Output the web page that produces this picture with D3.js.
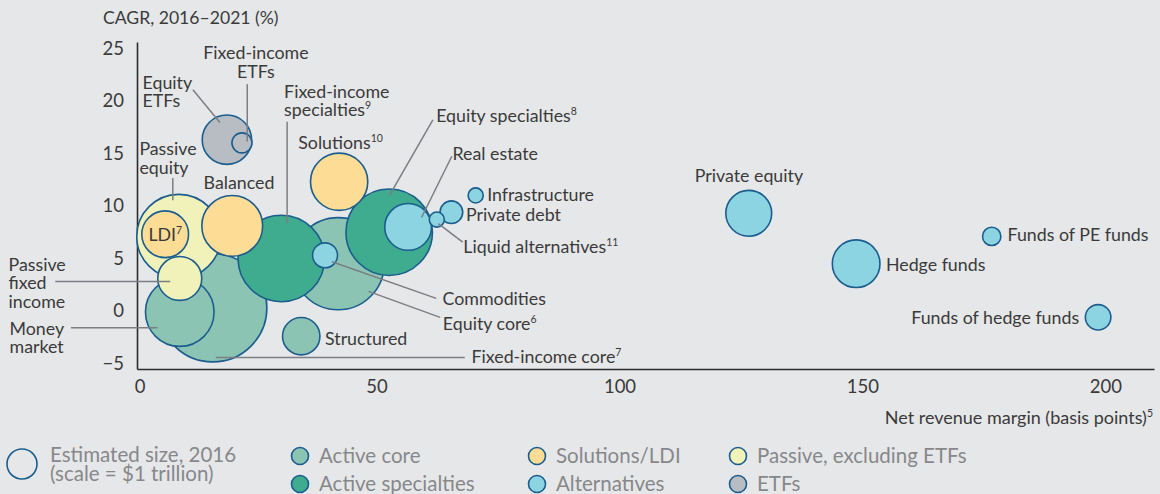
<!DOCTYPE html>
<html><head><meta charset="utf-8">
<script src="https://cdn.jsdelivr.net/npm/d3@7"></script>
<style>
html,body{margin:0;padding:0;background:#e6e7e9;}
svg{display:block;font-family:Lato,"Open Sans",sans-serif;}
</style></head>
<body><svg id="c" width="1160" height="494"></svg>
<script>
// ---- data (draw order) ----
const categories = ["Fixed-income core","Equity core","Money market","Passive equity","Passive fixed income","LDI",
  "Fixed-income specialties","Balanced","Equity specialties","Solutions","Commodities","Structured","Real estate",
  "Private debt","Liquid alternatives","Infrastructure","Equity ETFs","Fixed-income ETFs","Private equity",
  "Hedge funds","Funds of PE funds","Funds of hedge funds"];
const margins = [16.3,42.1,9.5,9.3,9.5,6.5,30.4,20.3,52.6,42.3,39.4,34.5,56.5,65.4,62.4,70.4,19.2,22.3,126.6,148.7,176.6,198.5];
const cagr = [0.3,4.5,-0.1,7.1,3.1,7.3,5.0,8.1,7.5,12.3,5.3,-2.4,8.0,9.4,8.7,11.0,16.3,16.0,9.3,4.5,7.1,-0.6];
const sizes2016 = [13.9,10.1,5.6,8.4,2.3,2.6,8.9,4.4,8.9,3.9,0.74,1.66,2.6,0.61,0.27,0.27,2.9,0.48,2.5,2.7,0.40,0.77];
const groups = ["Active core","Active core","Active core","Passive, excluding ETFs","Passive, excluding ETFs","Solutions/LDI",
  "Active specialties","Solutions/LDI","Active specialties","Solutions/LDI","Alternatives","Active core","Alternatives",
  "Alternatives","Alternatives","Alternatives","ETFs","ETFs","Alternatives","Alternatives","Alternatives","Alternatives"];
const legendGroups = ["Active core","Active specialties","Solutions/LDI","Alternatives","Passive, excluding ETFs","ETFs"];
const xTicks = [0,50,100,150,200];
const yTicks = [-5,0,5,10,15,20,25];

// ---- styles ----
const colors = {"Active core":"#8cc4b3","Active specialties":"#3fab8f","Solutions/LDI":"#fddc95",
  "Alternatives":"#8cd4e2","Passive, excluding ETFs":"#f1f2b9","ETFs":"#b7bdc3"};
const strokeC = "#1b5d8e", textC = "#3a3a3a", lineC = "#7b7e82", legendC = "#86888a";

const svg = d3.select("#c");
const x = d3.scaleLinear().domain([0.7,210]).range([137,1154]);
const y = d3.scaleLinear().domain([-5.52,25.6]).range([369,42]);
const r = d3.scaleSqrt().domain([0,1]).range([0,14.5]);

// axes
const gx = svg.append("g").attr("transform","translate(0,369)")
  .call(d3.axisBottom(x).tickValues(xTicks).tickSize(0).tickPadding(11).tickSizeOuter(0));
const gy = svg.append("g").attr("transform","translate(137,0)")
  .call(d3.axisLeft(y).tickValues(yTicks).tickSize(0).tickPadding(13).tickSizeOuter(0));
[gx,gy].forEach(g=>{
  g.select(".domain").attr("stroke","#2b2b2b").attr("stroke-width",1.6);
  g.selectAll("text").attr("font-size",18.5).attr("fill",textC).attr("font-family","Lato");
});
gx.selectAll(".tick text").filter(d=>d===0).attr("dx",6);

// titles
svg.append("text").attr("x",103).attr("y",24).attr("font-size",17.6).attr("fill",textC).text("CAGR, 2016–2021 (%)");
const xt = svg.append("text").attr("x",1153).attr("y",424).attr("text-anchor","end").attr("font-size",18).attr("fill",textC);
xt.append("tspan").text("Net revenue margin (basis points)");
xt.append("tspan").attr("font-size",10.5).attr("dy",-7).text("5");

// bubbles
const data = categories.map((c,i)=>({name:c,x:margins[i],y:cagr[i],s:sizes2016[i],g:groups[i]}));
svg.append("g").selectAll("circle").data(data).join("circle")
  .attr("cx",d=>x(d.x)).attr("cy",d=>y(d.y)).attr("r",d=>r(d.s))
  .attr("fill",d=>colors[d.g]).attr("stroke",strokeC).attr("stroke-width",1.6);

// annotations: offsets from bubble centre (label centre of first line), leader offsets
const ann = {
  "Money market":{t:["Money","market"],dx:-170.2,dy:16.6,a:"start",l:[-108.8,15.6,-22.2,15.6]},
  "Fixed-income core":{t:["Fixed-income core"],sup:"7",dx:258.7,dy:48.7,a:"start",l:[3,49.7,252,49.7]},
  "Passive fixed income":{t:["Passive","fixed","income"],dx:-171.2,dy:-13.7,a:"start",l:[-124.5,3,-9.5,3]},
  "Passive equity":{t:["Passive","equity"],dx:-39.4,dy:-87.2,a:"start",l:[-6,-58.5,-6,-36.2]},
  "LDI":{t:["LDI"],sup:"7",dx:-16.7,dy:0,a:"start"},
  "Balanced":{t:["Balanced"],dx:-28.7,dy:-43.3,a:"start"},
  "Equity ETFs":{t:["Equity","ETFs"],dx:-84.3,dy:-57,a:"start",l:[-34,-50,-7,-17.3]},
  "Fixed-income ETFs":{t:["Fixed-income","ETFs"],dx:14,dy:-89.7,a:"middle",l:[5.3,-58.7,5.3,-1.3]},
  "Fixed-income specialties":{t:["Fixed-income","specialties"],sup:"9",dx:2.8,dy:-166.8,a:"start",l:[5.8,-136.8,5.8,-35.2]},
  "Equity core":{t:["Equity core"],sup:"6",dx:104.7,dy:60,a:"start",l:[102,53.7,30.3,27.7]},
  "Commodities":{t:["Commodities"],dx:117.5,dy:43.8,a:"start",l:[111.2,43.1,6.9,6.5]},
  "Structured":{t:["Structured"],dx:23.8,dy:2.3,a:"start"},
  "Solutions":{t:["Solutions"],sup:"10",dx:-40.9,dy:-38.9,a:"start"},
  "Equity specialties":{t:["Equity specialties"],sup:"8",dx:47,dy:-116.7,a:"start",l:[43.7,-112.4,0.3,-36.7]},
  "Real estate":{t:["Real estate"],dx:44.4,dy:-72.7,a:"start",l:[43.7,-70.7,13.4,-9.4]},
  "Liquid alternatives":{t:["Liquid alternatives"],sup:"11",dx:26.5,dy:27.5,a:"start",l:[25.9,22.5,1.5,4.1]},
  "Private debt":{t:["Private debt"],dx:14.7,dy:2.9,a:"start"},
  "Infrastructure":{t:["Infrastructure"],dx:11.5,dy:-0.8,a:"start"},
  "Private equity":{t:["Private equity"],dx:0.2,dy:-37.1,a:"middle"},
  "Hedge funds":{t:["Hedge funds"],dx:29.8,dy:0.7,a:"start"},
  "Funds of PE funds":{t:["Funds of PE funds"],dx:15.8,dy:-1.7,a:"start"},
  "Funds of hedge funds":{t:["Funds of hedge funds"],dx:-19,dy:0.5,a:"end"}
};
const lh = 18.5;
const ag = svg.append("g");
data.forEach(d=>{
  const a = ann[d.name]; if(!a) return;
  const cx = x(d.x), cy = y(d.y);
  if(a.l){
    ag.append("line").attr("x1",cx+a.l[0]).attr("y1",cy+a.l[1]).attr("x2",cx+a.l[2]).attr("y2",cy+a.l[3])
      .attr("stroke",lineC).attr("stroke-width",1.5);
  }
  const t = ag.append("text").attr("font-size",17.8).attr("fill",textC).attr("text-anchor",a.a);
  a.t.forEach((line,k)=>{
    t.append("tspan").attr("x",cx+a.dx).attr("y",cy+a.dy+k*lh).attr("dy","0.35em").text(line);
  });
  if(a.sup){ t.append("tspan").attr("font-size",10.5).attr("dy",-7).text(a.sup); }
});

// legend
const lg = svg.append("g");
lg.append("circle").attr("cx",22).attr("cy",464).attr("r",15).attr("fill","none").attr("stroke",strokeC).attr("stroke-width",1.6);
const lt = lg.append("text").attr("font-size",20.5).attr("fill",legendC);
lt.append("tspan").attr("x",50).attr("y",455).attr("dy","0.35em").text("Estimated size, 2016");
lt.append("tspan").attr("x",50).attr("y",474).attr("dy","0.35em").text("(scale = $1 trillion)");
const colX = [300,537,738];
legendGroups.forEach((g,i)=>{
  const cx = colX[Math.floor(i/2)], cy = i%2===0?456:484;
  lg.append("circle").attr("cx",cx).attr("cy",cy).attr("r",8.5).attr("fill",colors[g]).attr("stroke",strokeC).attr("stroke-width",1.6);
  lg.append("text").attr("x",cx+19).attr("y",cy).attr("dy","0.35em").attr("font-size",20.5).attr("fill",legendC).text(g);
});
</script></body></html>
